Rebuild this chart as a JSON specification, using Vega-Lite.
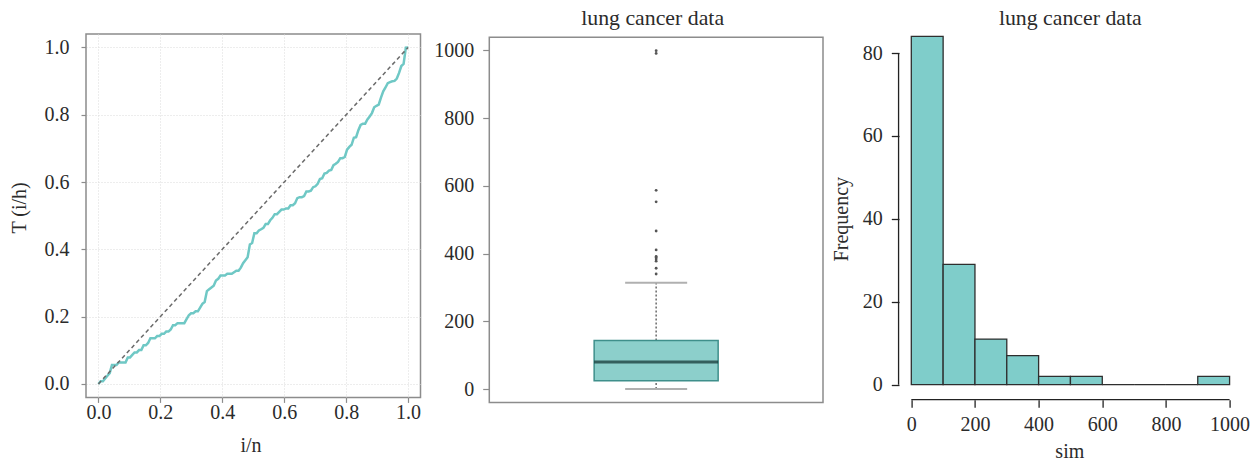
{
  "$schema": "https://vega.github.io/schema/vega-lite/v6.json",
  "background": "white",
  "padding": {"left": 8, "top": 7, "right": 5, "bottom": 5},
  "bounds": "flush",
  "spacing": 68.3,
  "config": {
    "font": "Liberation Serif",
    "axis": {"labelFont": "Liberation Serif", "titleFont": "Liberation Serif", "labelFontSize": 20, "titleFontSize": 20, "labelColor": "#2b2b2b", "titleColor": "#2b2b2b", "titleFontWeight": "normal", "grid": false},
    "title": {"font": "Liberation Serif", "fontSize": 21.8, "fontWeight": "normal", "color": "#2b2b2b"}
  },
  "datasets": {
    "ttt": [
      {"p":0,"t":0},{"p":0.0073,"t":0.0082},{"p":0.0146,"t":0.0082},{"p":0.0219,"t":0.0163},{"p":0.0292,"t":0.0244},{"p":0.0365,"t":0.0323},{"p":0.0438,"t":0.0561},{"p":0.0511,"t":0.0561},{"p":0.0584,"t":0.0561},{"p":0.0657,"t":0.0639},{"p":0.0730,"t":0.0639},{"p":0.0803,"t":0.0639},{"p":0.0876,"t":0.0639},{"p":0.0949,"t":0.0789},{"p":0.1022,"t":0.0789},{"p":0.1095,"t":0.0862},{"p":0.1168,"t":0.0936},{"p":0.1241,"t":0.0936},{"p":0.1314,"t":0.1008},{"p":0.1387,"t":0.1008},{"p":0.1460,"t":0.1149},{"p":0.1533,"t":0.1149},{"p":0.1606,"t":0.1219},{"p":0.1679,"t":0.1357},{"p":0.1752,"t":0.1357},{"p":0.1825,"t":0.1357},{"p":0.1898,"t":0.1424},{"p":0.1971,"t":0.1424},{"p":0.2044,"t":0.1490},{"p":0.2117,"t":0.1490},{"p":0.2190,"t":0.1555},{"p":0.2263,"t":0.1555},{"p":0.2336,"t":0.1619},{"p":0.2409,"t":0.1745},{"p":0.2482,"t":0.1745},{"p":0.2555,"t":0.1806},{"p":0.2628,"t":0.1806},{"p":0.2701,"t":0.1806},{"p":0.2774,"t":0.1806},{"p":0.2847,"t":0.1925},{"p":0.2920,"t":0.2043},{"p":0.2993,"t":0.2101},{"p":0.3066,"t":0.2101},{"p":0.3139,"t":0.2158},{"p":0.3212,"t":0.2158},{"p":0.3285,"t":0.2270},{"p":0.3358,"t":0.2380},{"p":0.3431,"t":0.2435},{"p":0.3504,"t":0.2759},{"p":0.3577,"t":0.2812},{"p":0.3650,"t":0.2865},{"p":0.3723,"t":0.2917},{"p":0.3796,"t":0.3072},{"p":0.3869,"t":0.3123},{"p":0.3942,"t":0.3224},{"p":0.4015,"t":0.3224},{"p":0.4088,"t":0.3224},{"p":0.4161,"t":0.3273},{"p":0.4234,"t":0.3273},{"p":0.4307,"t":0.3273},{"p":0.4380,"t":0.3319},{"p":0.4453,"t":0.3366},{"p":0.4526,"t":0.3366},{"p":0.4599,"t":0.3456},{"p":0.4672,"t":0.3589},{"p":0.4745,"t":0.3676},{"p":0.4818,"t":0.3763},{"p":0.4891,"t":0.4146},{"p":0.4964,"t":0.4188},{"p":0.5036,"t":0.4478},{"p":0.5109,"t":0.4478},{"p":0.5182,"t":0.4559},{"p":0.5255,"t":0.4598},{"p":0.5328,"t":0.4637},{"p":0.5401,"t":0.4752},{"p":0.5474,"t":0.4752},{"p":0.5547,"t":0.4864},{"p":0.5620,"t":0.4937},{"p":0.5693,"t":0.5045},{"p":0.5766,"t":0.5045},{"p":0.5839,"t":0.5115},{"p":0.5912,"t":0.5183},{"p":0.5985,"t":0.5183},{"p":0.6058,"t":0.5216},{"p":0.6131,"t":0.5216},{"p":0.6204,"t":0.5312},{"p":0.6277,"t":0.5312},{"p":0.6350,"t":0.5373},{"p":0.6423,"t":0.5523},{"p":0.6496,"t":0.5552},{"p":0.6569,"t":0.5552},{"p":0.6642,"t":0.5581},{"p":0.6715,"t":0.5719},{"p":0.6788,"t":0.5719},{"p":0.6861,"t":0.5745},{"p":0.6934,"t":0.5848},{"p":0.7007,"t":0.5874},{"p":0.7080,"t":0.5947},{"p":0.7153,"t":0.6091},{"p":0.7226,"t":0.6115},{"p":0.7299,"t":0.6252},{"p":0.7372,"t":0.6274},{"p":0.7445,"t":0.6339},{"p":0.7518,"t":0.6360},{"p":0.7591,"t":0.6502},{"p":0.7664,"t":0.6542},{"p":0.7737,"t":0.6600},{"p":0.7810,"t":0.6711},{"p":0.7883,"t":0.6711},{"p":0.7956,"t":0.6746},{"p":0.8029,"t":0.6965},{"p":0.8102,"t":0.7046},{"p":0.8175,"t":0.7108},{"p":0.8248,"t":0.7318},{"p":0.8321,"t":0.7332},{"p":0.8394,"t":0.7540},{"p":0.8467,"t":0.7698},{"p":0.8540,"t":0.7736},{"p":0.8613,"t":0.7736},{"p":0.8686,"t":0.7861},{"p":0.8759,"t":0.7948},{"p":0.8832,"t":0.8050},{"p":0.8905,"t":0.8222},{"p":0.8978,"t":0.8267},{"p":0.9051,"t":0.8301},{"p":0.9124,"t":0.8512},{"p":0.9197,"t":0.8699},{"p":0.9270,"t":0.8811},{"p":0.9343,"t":0.8937},{"p":0.9416,"t":0.8970},{"p":0.9489,"t":0.8994},{"p":0.9562,"t":0.9006},{"p":0.9635,"t":0.9075},{"p":0.9708,"t":0.9243},{"p":0.9781,"t":0.9449},{"p":0.9854,"t":0.9510},{"p":0.9927,"t":0.9995},{"p":1,"t":1}
    ],
    "diag": [{"p":0,"t":0},{"p":1,"t":1}],
    "times": [
      {"time":72},{"time":411},{"time":228},{"time":126},{"time":118},{"time":10},{"time":82},{"time":110},{"time":314},{"time":100},{"time":42},{"time":8},{"time":144},{"time":25},{"time":11},{"time":30},{"time":384},{"time":4},{"time":54},{"time":13},{"time":123},{"time":97},{"time":153},{"time":59},{"time":117},{"time":16},{"time":151},{"time":22},{"time":56},{"time":21},{"time":18},{"time":139},{"time":20},{"time":31},{"time":52},{"time":287},{"time":18},{"time":51},{"time":122},{"time":27},{"time":54},{"time":7},{"time":63},{"time":392},{"time":10},{"time":8},{"time":92},{"time":35},{"time":117},{"time":132},{"time":12},{"time":162},{"time":3},{"time":95},{"time":177},{"time":162},{"time":216},{"time":553},{"time":278},{"time":12},{"time":260},{"time":200},{"time":156},{"time":182},{"time":143},{"time":105},{"time":103},{"time":250},{"time":100},{"time":999},{"time":112},{"time":87},{"time":231},{"time":242},{"time":991},{"time":111},{"time":1},{"time":587},{"time":389},{"time":33},{"time":25},{"time":357},{"time":467},{"time":201},{"time":1},{"time":30},{"time":44},{"time":283},{"time":15},{"time":25},{"time":103},{"time":21},{"time":13},{"time":87},{"time":2},{"time":20},{"time":7},{"time":24},{"time":99},{"time":8},{"time":99},{"time":61},{"time":25},{"time":95},{"time":80},{"time":51},{"time":29},{"time":24},{"time":18},{"time":83},{"time":31},{"time":51},{"time":90},{"time":52},{"time":73},{"time":8},{"time":36},{"time":48},{"time":7},{"time":140},{"time":186},{"time":84},{"time":19},{"time":45},{"time":80},{"time":52},{"time":164},{"time":19},{"time":53},{"time":15},{"time":43},{"time":340},{"time":133},{"time":111},{"time":231},{"time":378},{"time":49}
    ],
    "hist": [
      {"start":0,"end":100,"count":84},{"start":100,"end":200,"count":29},{"start":200,"end":300,"count":11},{"start":300,"end":400,"count":7},{"start":400,"end":500,"count":2},{"start":500,"end":600,"count":2},{"start":600,"end":700,"count":0},{"start":700,"end":800,"count":0},{"start":800,"end":900,"count":0},{"start":900,"end":1000,"count":2}
    ]
  },
  "hconcat": [
    {
      "width": 334.5,
      "height": 363.4,
      "view": {"stroke": "#8c8c8c", "strokeWidth": 1.5},
      "layer": [
        {
          "data": {"name": "ttt"},
          "mark": {"type": "line", "color": "#6fc8c5", "strokeWidth": 2.5},
          "encoding": {
            "x": {"field": "p", "type": "quantitative", "scale": {"domain": [-0.04, 1.04], "nice": false, "zero": false},
              "axis": {"title": "i/n", "values": [0, 0.2, 0.4, 0.6, 0.8, 1], "format": ".1f", "grid": true, "gridColor": "#dadada", "gridDash": [1, 2], "gridWidth": 1, "domain": false, "tickColor": "#8c8c8c", "tickSize": 5, "tickWidth": 1.2, "labelPadding": 0, "titleBaseline": "alphabetic", "titleX": 164.5, "titleY": 54.3}},
            "y": {"field": "t", "type": "quantitative", "scale": {"domain": [-0.04, 1.04], "nice": false, "zero": false},
              "axis": {"title": "T (i/h)", "values": [0, 0.2, 0.4, 0.6, 0.8, 1], "format": ".1f", "grid": true, "gridColor": "#dadada", "gridDash": [1, 2], "gridWidth": 1, "domain": false, "tickColor": "#8c8c8c", "tickSize": 5, "tickWidth": 1.2, "labelPadding": 12, "titleBaseline": "alphabetic", "titleAngle": 270, "titleX": -60.5, "titleY": 173.4}}
          }
        },
        {
          "data": {"name": "diag"},
          "mark": {"type": "line", "color": "#6a6a6a", "strokeWidth": 1.5, "strokeDash": [4, 3]},
          "encoding": {
            "x": {"field": "p", "type": "quantitative"},
            "y": {"field": "t", "type": "quantitative"}
          }
        }
      ]
    },
    {
      "width": 333.7,
      "height": 368.4,
      "view": {"stroke": null},
      "title": {"text": "lung cancer data", "baseline": "alphabetic", "frame": "group", "offset": -12.4, "dx": -3.5},
      "layer": [
        {
          "data": {"name": "times"},
          "mark": {
            "type": "boxplot", "extent": 1.5, "size": 124,
            "box": {"color": "#8ccfcb", "stroke": "#3f8f8b", "strokeWidth": 1.5},
            "median": {"color": "#0e2f2e", "thickness": 3},
            "rule": {"color": "#6a6a6a", "strokeDash": [2, 2], "strokeWidth": 1.5},
            "ticks": {"color": "#b0b0b0", "size": 62, "thickness": 2},
            "outliers": {"color": "#555555", "size": 8, "filled": true, "opacity": 1}
          },
          "encoding": {
            "y": {"field": "time", "type": "quantitative", "scale": {"domain": [-38.9, 1048.3], "nice": false, "zero": false},
              "axis": {"title": null, "values": [0, 200, 400, 600, 800, 1000], "format": "d", "domain": false, "tickColor": "#8c8c8c", "tickSize": 6.6, "tickWidth": 1.2, "labelPadding": 9}}
          }
        },
        {
          "data": {"values": [{}]},
          "mark": {"type": "rect", "fillOpacity": 0, "stroke": "#8c8c8c", "strokeWidth": 1.5},
          "encoding": {
            "x": {"datum": 0, "type": "quantitative", "scale": {"domain": [0, 1], "nice": false, "zero": false}, "axis": null},
            "x2": {"datum": 1},
            "y": {"datum": -38.9, "type": "quantitative"},
            "y2": {"datum": 1038.9}
          }
        }
      ]
    },
    {
      "width": 350.4,
      "height": 350.7,
      "view": {"stroke": null},
      "title": {"text": "lung cancer data", "baseline": "alphabetic", "frame": "group", "offset": -12.4, "dx": 3.5},
      "layer": [
        {
          "data": {"name": "hist"},
          "mark": {"type": "rect", "fill": "#7fcdca", "stroke": "#2e2e2e", "strokeWidth": 1.3},
          "encoding": {
            "x": {"field": "start", "type": "quantitative", "scale": {"domain": [-61.9, 1039], "nice": false, "zero": false},
              "axis": {"title": "sim", "values": [0, 200, 400, 600, 800, 1000], "format": "d", "domain": false, "offset": 15, "tickColor": "#222222", "tickSize": 7.5, "tickWidth": 1.3, "labelPadding": 7.5, "titleBaseline": "alphabetic", "titleX": 177.7, "titleY": 57.7}},
            "x2": {"field": "end"},
            "y": {"field": "count", "type": "quantitative", "scale": {"domain": [0, 84.59], "nice": false, "zero": false},
              "axis": {"title": "Frequency", "values": [0, 20, 40, 60, 80], "domain": false, "offset": -7.4, "tickColor": "#222222", "tickSize": 7.7, "tickWidth": 1.3, "labelPadding": 9, "titleBaseline": "alphabetic", "titleAngle": 270, "titleX": -51.2, "titleY": 184.7}},
            "y2": {"datum": 0}
          }
        },
        {
          "data": {"values": [{}]},
          "mark": {"type": "rule", "color": "#222222", "strokeWidth": 1.3},
          "encoding": {
            "x": {"datum": -40, "type": "quantitative"},
            "y": {"datum": 0, "type": "quantitative"},
            "y2": {"datum": 80}
          }
        },
        {
          "data": {"values": [{}]},
          "mark": {"type": "rule", "color": "#222222", "strokeWidth": 1.3},
          "encoding": {
            "x": {"datum": 0, "type": "quantitative"},
            "x2": {"datum": 1000},
            "y": {"datum": -3.62, "type": "quantitative"}
          }
        }
      ]
    }
  ]
}
